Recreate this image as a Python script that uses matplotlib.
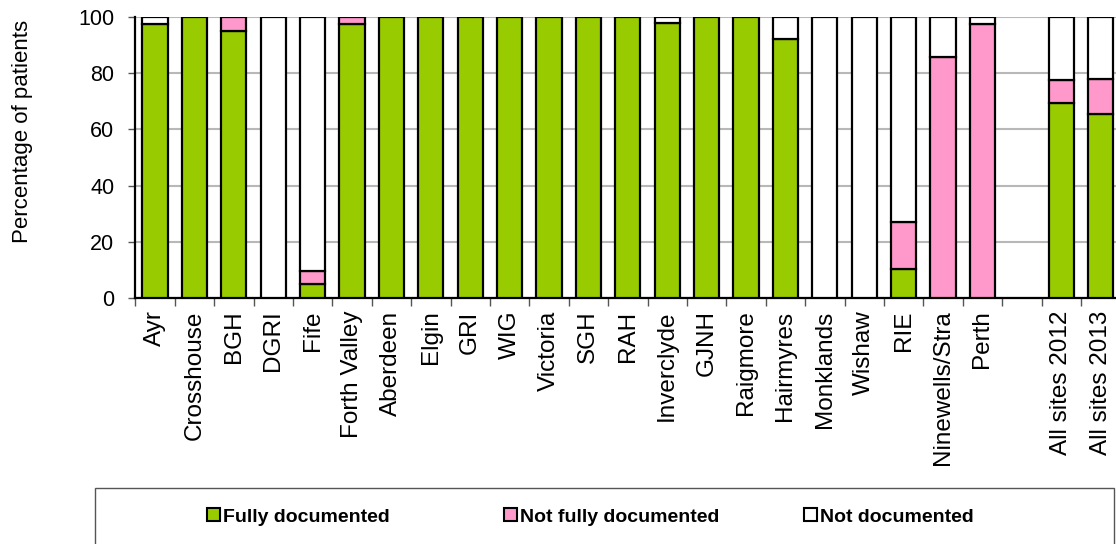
import matplotlib
matplotlib.use("Agg")
import matplotlib.pyplot as plt
from matplotlib.patches import Rectangle, Patch
import numpy as np

plt.rcParams['font.family'] = ['Liberation Sans', 'DejaVu Sans']

sites = ["Ayr", "Crosshouse", "BGH", "DGRI", "Fife", "Forth Valley", "Aberdeen",
         "Elgin", "GRI", "WIG", "Victoria", "SGH", "RAH", "Inverclyde", "GJNH",
         "Raigmore", "Hairmyres", "Monklands", "Wishaw", "RIE", "Ninewells/Stra",
         "Perth", "", "All sites 2012", "All sites 2013"]
fully = [97.5, 100, 95, 0, 5, 97.5, 100, 100, 100, 100, 100, 100, 100, 97.7,
         100, 100, 92.3, 0, 0, 10.3, 0, 0, 0, 69.5, 65.5]
not_fully = [0, 0, 5, 0, 4.7, 2.5, 0, 0, 0, 0, 0, 0, 0, 0,
             0, 0, 0, 0, 0, 16.7, 85.9, 97.5, 0, 8.1, 12.5]
not_doc = [2.5, 0, 0, 100, 90.3, 0, 0, 0, 0, 0, 0, 0, 0, 2.3,
           0, 0, 7.7, 100, 100, 73.0, 14.1, 2.5, 0, 22.4, 22.0]

green = "#99CC00"
pink = "#FF99CC"

fig = plt.figure(figsize=(11.16, 5.44), dpi=100)
ax = fig.add_axes([135.3 / 1116, 246 / 544, 985 / 1116, 281 / 544])

x = np.arange(len(sites))
w = 0.64
f = np.array(fully)
p = np.array(not_fully)
n = np.array(not_doc)

def lws(h):
    # no outline for empty segments
    return [1.6 if v > 0 else 0 for v in h]

ax.bar(x, f, w, color=green, edgecolor="black", linewidth=lws(f), zorder=3)
ax.bar(x, p, w, bottom=f, color=pink, edgecolor="black", linewidth=lws(p), zorder=3)
ax.bar(x, n, w, bottom=f + p, color="white", edgecolor="black", linewidth=lws(n), zorder=3)

ax.set_xlim(-0.5, len(sites) - 0.5)
ax.set_ylim(0, 100)
ax.set_yticks([0, 20, 40, 60, 80, 100])
ax.tick_params(axis="y", labelsize=15.5, length=5, width=1, color="#555555", pad=10)
ax.yaxis.grid(True, color="#b8b8b8", linewidth=1.5, zorder=0)
ax.set_axisbelow(True)

ax.set_xticks(x)
ax.set_xticklabels(sites, rotation=90, fontsize=17.5)
ax.tick_params(axis="x", length=0, pad=9)
ax.set_xticks(np.arange(-0.5, len(sites)), minor=True)
ax.tick_params(axis="x", which="minor", length=6, width=1, color="#555555")

for s in ["top", "right"]:
    ax.spines[s].set_visible(False)
ax.spines["left"].set_linewidth(1.6)
ax.spines["bottom"].set_linewidth(1.6)

fig.text(23 / 1116, 1 - 131 / 544, "Percentage of patients", rotation=90,
         ha="center", va="center", fontsize=16)

# legend box
fig.patches.append(Rectangle((95 / 1116, -0.05), 1019 / 1116, 0.05 + 56 / 544,
                             transform=fig.transFigure, facecolor="white",
                             edgecolor="#555555", linewidth=1))
labels = ["Fully documented", "Not fully documented", "Not documented"]
colors = [green, pink, "white"]
xs = [207, 504, 804]
for lab, c, xp in zip(labels, colors, xs):
    h = Patch(facecolor=c, edgecolor="black", linewidth=1.5)
    fig.legend([h], [lab], loc="center left", bbox_to_anchor=(xp / 1116, 1 - 517 / 544),
               frameon=False, prop={"weight": "bold", "size": 14},
               handlelength=0.65, handleheight=0.65, handletextpad=0.15,
               borderpad=0, borderaxespad=0)

fig.savefig("out.png", dpi=100)
